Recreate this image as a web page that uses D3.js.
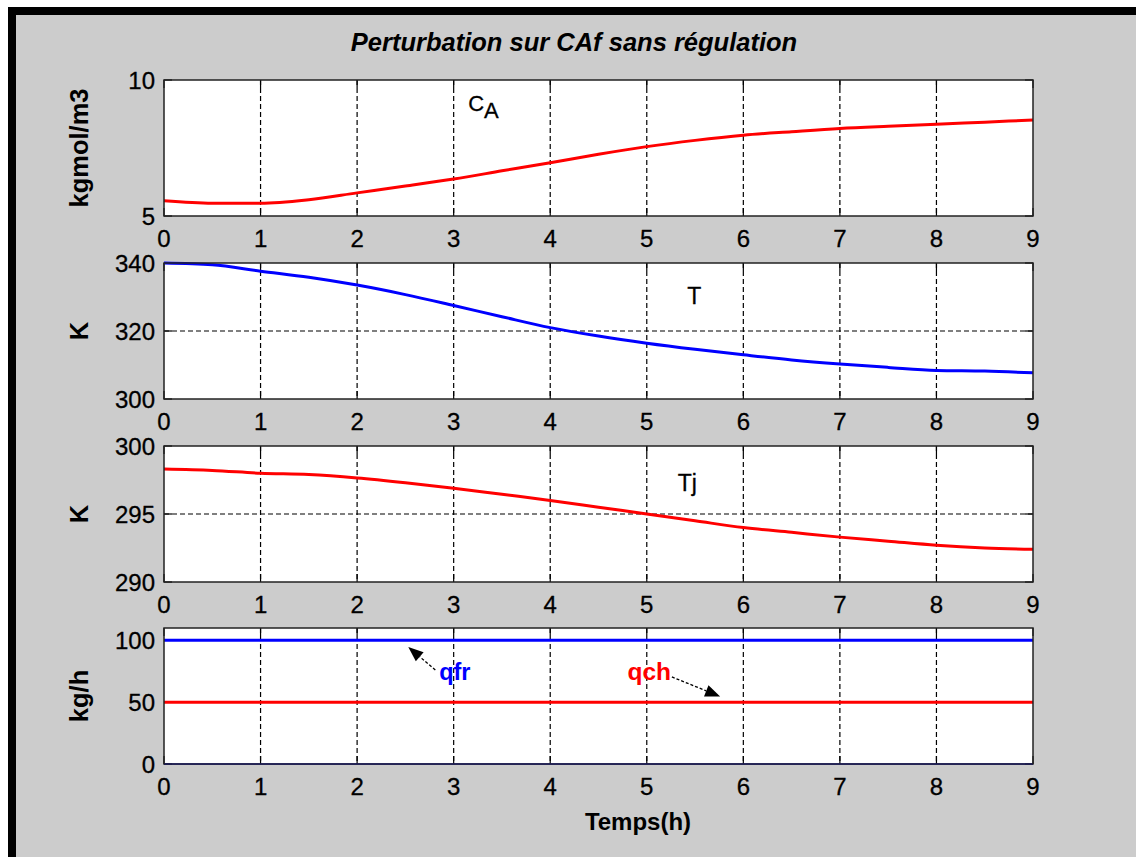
<!DOCTYPE html>
<html>
<head>
<meta charset="utf-8">
<script src="https://cdn.jsdelivr.net/npm/d3@7"></script>
<style>
  body { margin: 0; background: #fff; }
  svg text { font-family: "Liberation Sans", Arial, sans-serif; }
</style>
</head>
<body>
<svg id="fig" width="1136" height="857"></svg>
<script>
// time axis (h)
const time = [0, 0.5, 1, 1.5, 2, 2.5, 3, 3.5, 4, 4.5, 5, 5.5, 6, 6.5, 7, 7.5, 8, 8.5, 9];

const caValues = [5.56, 5.47, 5.47, 5.6, 5.85, 6.1, 6.36, 6.66, 6.96, 7.27, 7.55, 7.78, 7.97, 8.1, 8.22, 8.3, 8.37, 8.45, 8.53];
const tValues  = [340, 339.5, 337.6, 335.8, 333.5, 330.7, 327.5, 324.2, 321.0, 318.5, 316.4, 314.6, 313.0, 311.5, 310.3, 309.3, 308.4, 308.2, 307.7];
const tjValues = [298.3, 298.2, 298.0, 297.9, 297.65, 297.3, 296.9, 296.45, 296.0, 295.5, 295.0, 294.5, 294.0, 293.65, 293.3, 293.0, 292.7, 292.5, 292.4];

const flowTime = [0, 9];
const qfrValues = [100, 100];
const qchValues = [50, 50];
const zeroValues = [0, 0];

const xTicks = [0, 1, 2, 3, 4, 5, 6, 7, 8, 9];

const panels = [
    {id: "ca", top: 80, domain: [5, 10], ticks: [5, 10], label: "kgmol/m3",
     series: [{t: time, v: caValues, color: "#ff0000", w: 3}]},
    {id: "t", top: 263, domain: [300, 340], ticks: [300, 320, 340], label: "K",
     series: [{t: time, v: tValues, color: "#0000ff", w: 3}]},
    {id: "tj", top: 446, domain: [290, 300], ticks: [290, 295, 300], label: "K",
     series: [{t: time, v: tjValues, color: "#ff0000", w: 3}]},
    {id: "q", top: 628, domain: [0, 110], ticks: [0, 50, 100], label: "kg/h",
     series: [{t: flowTime, v: zeroValues, color: "#0000ff", w: 1.5},
              {t: flowTime, v: qfrValues, color: "#0000ff", w: 3},
              {t: flowTime, v: qchValues, color: "#ff0000", w: 3}]}
];

const left = 164, right = 1033, ph = 136, tickLen = 8;

const svg = d3.select("#fig");

// figure background + black frame
svg.append("rect").attr("x", 8).attr("y", 7).attr("width", 1128).attr("height", 850).attr("fill", "#000");
svg.append("rect").attr("x", 16).attr("y", 15).attr("width", 1120).attr("height", 842).attr("fill", "#cccccc");

svg.append("text")
    .attr("x", 574).attr("y", 51)
    .attr("text-anchor", "middle")
    .attr("font-size", 25.5).attr("font-weight", "bold").attr("font-style", "italic")
    .text("Perturbation sur CAf sans régulation");

const x = d3.scaleLinear().domain([0, 9]).range([left, right]);

panels.forEach(p => {
    const y = d3.scaleLinear().domain(p.domain).range([p.top + ph, p.top]);
    p.y = y;
    const g = svg.append("g").attr("id", p.id);

    g.append("rect")
        .attr("x", left).attr("y", p.top)
        .attr("width", right - left).attr("height", ph)
        .attr("fill", "#fff");

    // grid
    g.selectAll(".vgrid").data(xTicks.slice(1, -1)).enter().append("line")
        .attr("x1", d => x(d)).attr("x2", d => x(d))
        .attr("y1", p.top).attr("y2", p.top + ph)
        .attr("stroke", "#000").attr("stroke-width", 1.2).attr("stroke-dasharray", "5,3");
    g.selectAll(".hgrid").data(p.ticks.slice(1, -1)).enter().append("line")
        .attr("x1", left).attr("x2", right)
        .attr("y1", d => y(d)).attr("y2", d => y(d))
        .attr("stroke", "#000").attr("stroke-width", 1.2).attr("stroke-dasharray", "5,3");

    // inward ticks on all four sides
    xTicks.forEach(d => {
        g.append("line").attr("x1", x(d)).attr("x2", x(d))
            .attr("y1", p.top + ph).attr("y2", p.top + ph - tickLen).attr("stroke", "#000").attr("stroke-width", 1.2);
        g.append("line").attr("x1", x(d)).attr("x2", x(d))
            .attr("y1", p.top).attr("y2", p.top + tickLen).attr("stroke", "#000").attr("stroke-width", 1.2);
    });
    p.ticks.forEach(d => {
        g.append("line").attr("x1", left).attr("x2", left + tickLen)
            .attr("y1", y(d)).attr("y2", y(d)).attr("stroke", "#000").attr("stroke-width", 1.2);
        g.append("line").attr("x1", right).attr("x2", right - tickLen)
            .attr("y1", y(d)).attr("y2", y(d)).attr("stroke", "#000").attr("stroke-width", 1.2);
    });

    // data
    p.series.forEach(s => {
        const pts = s.t.map((t, i) => [t, s.v[i]]);
        g.append("path")
            .attr("d", d3.line().x(d => x(d[0])).y(d => y(d[1])).curve(d3.curveMonotoneX)(pts))
            .attr("fill", "none").attr("stroke", s.color).attr("stroke-width", s.w);
    });

    // box
    g.append("rect")
        .attr("x", left).attr("y", p.top)
        .attr("width", right - left).attr("height", ph)
        .attr("fill", "none").attr("stroke", "#222").attr("stroke-width", 1.5);

    // tick labels
    g.selectAll(".xl").data(xTicks).enter().append("text")
        .attr("x", d => x(d)).attr("y", p.top + ph + 31)
        .attr("text-anchor", "middle").attr("font-size", 24)
        .attr("stroke", "#000").attr("stroke-width", 0.3)
        .text(d => d);
    g.selectAll(".yl").data(p.ticks).enter().append("text")
        .attr("x", left - 9).attr("y", d => y(d))
        .attr("text-anchor", "end").attr("dominant-baseline", "central").attr("font-size", 24)
        .attr("stroke", "#000").attr("stroke-width", 0.3)
        .text(d => d);

    g.append("text")
        .attr("transform", `translate(88,${p.top + ph / 2}) rotate(-90)`)
        .attr("text-anchor", "middle").attr("font-size", 25.5).attr("font-weight", "bold")
        .text(p.label);
});

// annotations
const pCa = panels[0], pT = panels[1], pTj = panels[2], pQ = panels[3];

const caLabel = svg.append("text")
    .attr("x", x(3.15)).attr("y", pCa.y(8.85)).attr("font-size", 22)
    .attr("stroke", "#000").attr("stroke-width", 0.3);
caLabel.append("tspan").text("C");
caLabel.append("tspan").attr("dy", 7).text("A");

svg.append("text").attr("x", x(5.42)).attr("y", pT.y(327.8)).attr("font-size", 23)
    .attr("stroke", "#000").attr("stroke-width", 0.3).text("T");
svg.append("text").attr("x", x(5.32)).attr("y", pTj.y(296.66)).attr("font-size", 23)
    .attr("stroke", "#000").attr("stroke-width", 0.3).text("Tj");

svg.append("text").attr("x", x(2.85)).attr("y", pQ.y(68)).attr("font-size", 23.5)
    .attr("font-weight", "bold").attr("fill", "#0000ff").text("qfr");
svg.append("text").attr("x", x(4.80)).attr("y", pQ.y(68)).attr("font-size", 24.5)
    .attr("font-weight", "bold").attr("fill", "#ff0000").text("qch");

function arrow(x0, y0, x1, y1) {
    const a = Math.atan2(y1 - y0, x1 - x0);
    const len = 15, half = 6;
    const bx = x1 - len * Math.cos(a), by = y1 - len * Math.sin(a);
    svg.append("line").attr("x1", x0).attr("y1", y0).attr("x2", bx).attr("y2", by)
        .attr("stroke", "#000").attr("stroke-width", 1.3).attr("stroke-dasharray", "3,2");
    svg.append("path")
        .attr("d", `M${x1},${y1}L${bx + half * Math.sin(a)},${by - half * Math.cos(a)}L${bx - half * Math.sin(a)},${by + half * Math.cos(a)}Z`)
        .attr("fill", "#000");
}
arrow(x(2.81), pQ.y(76), x(2.53), pQ.y(94.6));
arrow(x(5.26), pQ.y(70.4), x(5.76), pQ.y(54.6));

svg.append("text")
    .attr("x", 638).attr("y", 830)
    .attr("text-anchor", "middle").attr("font-size", 24).attr("font-weight", "bold")
    .text("Temps(h)");
</script>
</body>
</html>
